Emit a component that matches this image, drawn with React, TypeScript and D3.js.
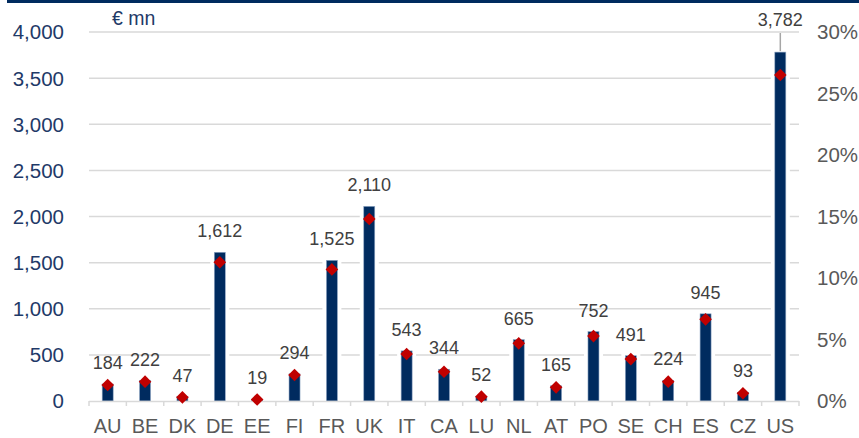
import React from "react";
import * as d3 from "d3";

const categories = ["AU","BE","DK","DE","EE","FI","FR","UK","IT","CA","LU","NL","AT","PO","SE","CH","ES","CZ","US"];
const amounts = [184,222,47,1612,19,294,1525,2110,543,344,52,665,165,752,491,224,945,93,3782];
const shares = [1.3,1.57,0.3,11.28,0.12,2.11,10.7,14.8,3.82,2.38,0.35,4.69,1.11,5.28,3.41,1.57,6.64,0.63,26.5];
const leftTicks = [0,500,1000,1500,2000,2500,3000,3500,4000];
const rightTicks = [0,5,10,15,20,25,30];
const unitLabel = "€ mn";

const W = 859, H = 438;
const NAVY = "#002B5F";
const RED = "#C00000";

export default function App() {
  const x = d3.scaleBand<string>().domain(categories).range([89, 799]).paddingInner(0).paddingOuter(0);
  const y = d3.scaleLinear().domain([0, 4000]).range([401, 32]);
  const y2 = d3.scaleLinear().domain([0, 30]).range([401, 32]);
  const fmt = d3.format(",");
  const barW = 11;
  const bw = x.bandwidth();
  const lastIdx = categories.length - 1;
  const diamond = d3.symbol().type(d3.symbolSquare).size(80)() as string;

  return (
    <div style={{ position: "fixed", left: 0, top: 0, width: W, height: H, background: "#fff" }}>
      <svg width={W} height={H} style={{ display: "block", fontFamily: "'Liberation Sans', Arial, sans-serif" }}>
        <rect x={7} y={0} width={W - 7} height={3} fill={NAVY} />
        {leftTicks.filter(t => t > 0).map(t => (
          <line key={t} x1={89} x2={799} y1={y(t)} y2={y(t)} stroke="#D9D9D9" strokeWidth={1.5} />
        ))}
        {leftTicks.map(t => (
          <text key={t} x={64} y={y(t)} dy="0.36em" textAnchor="end" fontSize={20.5} fill="#1F3A68">{fmt(t)}</text>
        ))}
        {rightTicks.map(t => (
          <text key={t} x={817} y={y2(t)} dy="0.36em" textAnchor="start" fontSize={20.5} fill="#595959">{t + "%"}</text>
        ))}
        <text x={112} y={25} fontSize={19.5} fill="#1F3A68">{unitLabel}</text>
        {categories.map((c, i) => {
          const cx = (x(c) as number) + bw / 2;
          return (
            <g key={c}>
              <rect x={cx - barW / 2 - 4} y={y(amounts[i]) - 2} width={barW + 8} height={y(0) - y(amounts[i]) + 1} fill="#fff" />
              <rect x={cx - barW / 2} y={y(amounts[i])} width={barW} height={y(0) - y(amounts[i])} fill={NAVY} stroke="#8FA6C4" strokeWidth={0.6} />
            </g>
          );
        })}
        <line x1={89} x2={799} y1={401.5} y2={401.5} stroke="#D9D9D9" strokeWidth={1.5} />
        {d3.range(categories.length + 1).map(k => {
          const xx = 89 + k * bw;
          return <line key={k} x1={xx} x2={xx} y1={401} y2={406} stroke="#D9D9D9" strokeWidth={1.5} />;
        })}
        {categories.map(c => (
          <text key={c} x={(x(c) as number) + bw / 2} y={433} textAnchor="middle" fontSize={20} fill="#595959">{c}</text>
        ))}
        {categories.map((c, i) => (
          <path key={c} d={diamond} transform={`translate(${(x(c) as number) + bw / 2},${y2(shares[i])}) rotate(45)`} fill={RED} />
        ))}
        {categories.map((c, i) => {
          const cx = (x(c) as number) + bw / 2;
          if (i === lastIdx) {
            return (
              <g key={c}>
                <line x1={cx} x2={cx} y1={y(4000) + 1} y2={y(amounts[i]) - 1} stroke="#A6A6A6" strokeWidth={1.5} />
                <text x={cx} y={26} textAnchor="middle" fontSize={18} fill="#404040">{fmt(amounts[i])}</text>
              </g>
            );
          }
          return (
            <text key={c} x={cx} y={y(amounts[i]) - 15} textAnchor="middle" fontSize={18} fill="#404040">{fmt(amounts[i])}</text>
          );
        })}
      </svg>
    </div>
  );
}
